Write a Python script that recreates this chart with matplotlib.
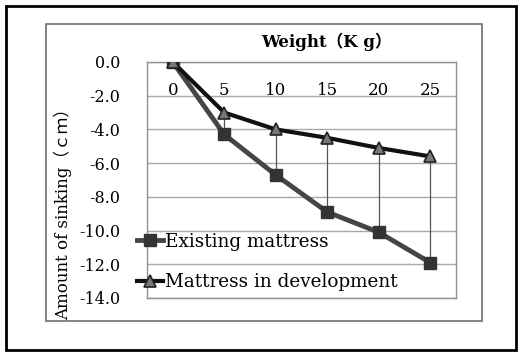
import matplotlib.pyplot as plt
from matplotlib.patches import Rectangle

weights = [0, 5, 10, 15, 20, 25]
existing = [0.0, -4.3, -6.7, -8.9, -10.1, -11.9]
development = [0.0, -3.0, -4.0, -4.5, -5.1, -5.6]
yticks = [0, -2, -4, -6, -8, -10, -12, -14]

W, H = 522, 355
serif = ['DejaVu Serif', 'Noto Sans CJK JP']

fig = plt.figure(figsize=(W / 100, H / 100), dpi=100)
fig.patch.set_facecolor('white')

# outer black frame and inner chart border
fig.patches.append(Rectangle((6 / W, 5 / H), 510 / W, 344 / H, transform=fig.transFigure,
                             fill=False, edgecolor='black', linewidth=2))
fig.patches.append(Rectangle((46 / W, (H - 321) / H), 436 / W, 297 / H, transform=fig.transFigure,
                             fill=False, edgecolor='#707070', linewidth=1.2))

ax = fig.add_axes([147 / W, (H - 298) / H, (456 - 147) / W, (298 - 62) / H])
x = list(range(len(weights)))

ax.set_ylim(-14, 0)
ax.set_xlim(-0.5, len(weights) - 0.5)
ax.set_yticks(yticks)
ax.set_yticklabels(['%.1f' % v if v == 0 else '-%.1f' % abs(v) for v in yticks],
                   fontfamily=serif, fontsize=11.5)
ax.tick_params(axis='y', length=0, pad=19)
ax.set_xticks([])
ax.grid(axis='y', color='#a8a8a8', linewidth=1)
ax.set_axisbelow(True)
for s in ax.spines.values():
    s.set_color('#909090')
    s.set_linewidth(1)

for i, w in enumerate(weights):
    ax.text(i, -1.7, str(w), ha='center', va='center', fontfamily=serif, fontsize=12)

ax.vlines(x[1:], development[1:], existing[1:], color='#555555', linewidth=0.9, zorder=2)

ax.plot(x, existing, color='#454545', linewidth=3.5, marker='s', markersize=9,
        markerfacecolor='#333333', markeredgecolor='#333333', label='Existing mattress', zorder=3)
ax.plot(x, development, color='#111111', linewidth=3, marker='^', markersize=9,
        markerfacecolor='#777777', markeredgecolor='#222222', markeredgewidth=1.2,
        label='Mattress in development', zorder=4)

fig.text(326 / W, 1 - 42 / H, 'Weight（K g）', ha='center', va='center',
         fontfamily=serif, fontsize=12, fontweight='bold')
fig.text(63 / W, 1 - 210 / H, 'Amount of sinking（ｃｍ）', ha='center', va='center',
         rotation=90, fontfamily=serif, fontsize=12)

leg = ax.legend(loc='center left', bbox_to_anchor=(128 / W, 1 - 262 / H),
                bbox_transform=fig.transFigure, frameon=False,
                prop={'family': serif, 'size': 13.2}, handlelength=1.4,
                handletextpad=0.1, labelspacing=1.25, borderpad=0)

fig.savefig('out.png', dpi=100)
